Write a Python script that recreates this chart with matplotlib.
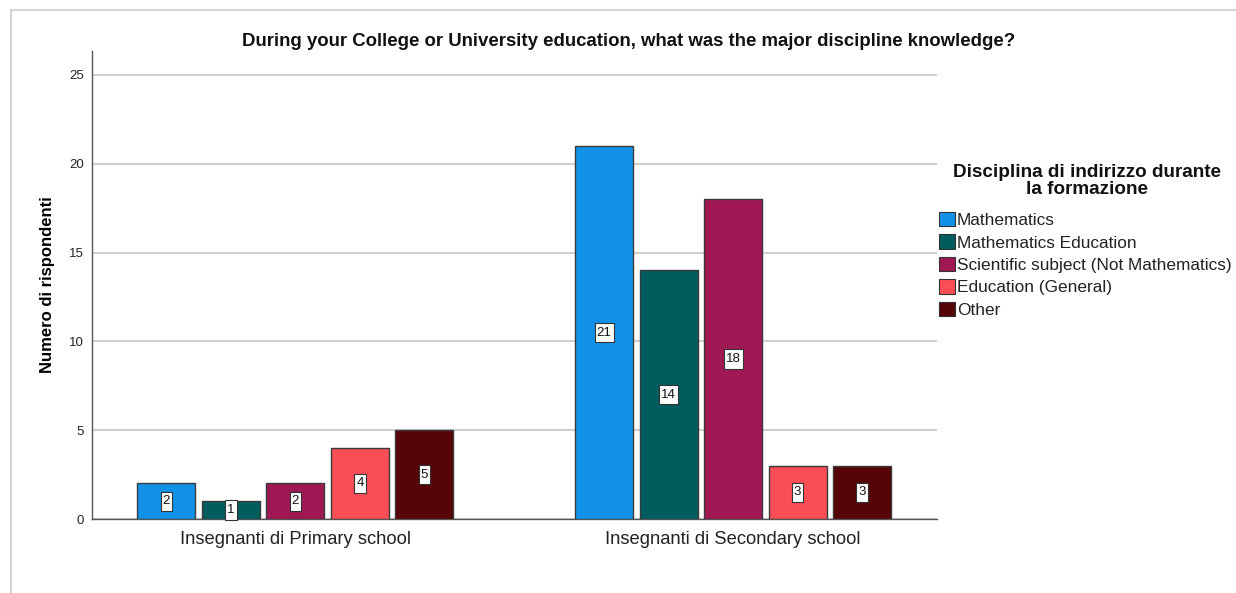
import matplotlib
matplotlib.use("Agg")
import matplotlib.pyplot as plt
import numpy as np
from matplotlib.patches import Patch, Rectangle
from matplotlib.path import Path

plt.rcParams['font.family'] = ['Liberation Sans', 'DejaVu Sans']

groups = ["Insegnanti di Primary school", "Insegnanti di Secondary school"]
disciplines = ["Mathematics", "Mathematics Education",
               "Scientific subject (Not Mathematics)", "Education (General)", "Other"]
counts = {
    "Mathematics": [2, 21],
    "Mathematics Education": [1, 14],
    "Scientific subject (Not Mathematics)": [2, 18],
    "Education (General)": [4, 3],
    "Other": [5, 3],
}
colors = ["#1192E8", "#005D5D", "#9F1853", "#FA4D56", "#570408"]
yticks = [0, 5, 10, 15, 20, 25]

fig = plt.figure(figsize=(12.36, 5.93), dpi=100)
W, H = 1236, 593


def tall_box(x0, y0, width, height, mutation_size):
    # value-label box: slim horizontal padding, taller vertical padding
    px, py = 0.16 * mutation_size, 0.28 * mutation_size
    x0, y0 = x0 - px, y0 - py
    w, h = width + 2 * px, height + 2 * py
    return Path([(x0, y0), (x0 + w, y0), (x0 + w, y0 + h), (x0, y0 + h), (x0, y0)],
                closed=True)


# outer frame
fig.add_artist(Rectangle((11 / W, -0.1), 1.2, (H - 10) / H + 0.1, transform=fig.transFigure,
                         fill=False, edgecolor="#d4d4d4", linewidth=1.5))

ax = fig.add_axes([92 / W, 1 - 519 / H, (937 - 92) / W, (519 - 51) / H])

x = np.arange(len(groups))
width = 0.1326
step = 0.1474
for i, (name, col) in enumerate(zip(disciplines, colors)):
    offs = (i - 2) * step
    vals = counts[name]
    bars = ax.bar(x + offs, vals, width, color=col, edgecolor="#3a3a3a", linewidth=1.0,
                  zorder=3, label=name)
    for b, v in zip(bars, vals):
        ax.text(b.get_x() + b.get_width() / 2, v / 2, str(v), ha="center", va="center",
                fontsize=9.5, color="#111111", zorder=5,
                bbox=dict(boxstyle=tall_box, facecolor="white",
                          edgecolor="#333333", linewidth=0.8))

ax.set_xlim(-0.465, 1.466)
ax.set_ylim(0, 26.35)
ax.set_xticks(x)
ax.set_xticklabels(groups, fontsize=13.2, color="#222222")
ax.set_yticks(yticks)
ax.set_yticklabels([str(t) for t in yticks], fontsize=9.5, color="#222222")
ax.tick_params(axis="x", length=0, pad=9)
ax.tick_params(axis="y", length=0, pad=6)
ax.yaxis.grid(True, color="#cfcfcf", linewidth=1.5, zorder=0)
ax.set_axisbelow(True)
for s in ["top", "right"]:
    ax.spines[s].set_visible(False)
ax.spines["left"].set_color("#555555")
ax.spines["bottom"].set_color("#555555")
ax.spines["left"].set_linewidth(1.0)
ax.spines["bottom"].set_linewidth(1.0)

ax.set_ylabel("Numero di rispondenti", fontsize=12, fontweight="bold", labelpad=10)
fig.text(629 / W, 1 - 41.5 / H, "During your College or University education, what was the major discipline knowledge?",
         ha="center", va="center", fontsize=13.4, fontweight="bold", color="#111111")

# legend title, centred above the entries
fig.text(1087 / W, 1 - 181 / H, "Disciplina di indirizzo durante\nla formazione",
         ha="center", va="center", multialignment="center", fontsize=13.6,
         fontweight="bold", linespacing=1.0, color="#111111")

handles = [Patch(facecolor=c, edgecolor="#333333", linewidth=0.8) for c in colors]
leg = fig.legend(handles, disciplines, loc="upper left", bbox_to_anchor=(939 / W, 1 - 212 / H),
                 frameon=False, fontsize=12.4,
                 handlelength=0.9, handleheight=0.9, handletextpad=0.15, labelspacing=0.37,
                 borderaxespad=0, borderpad=0)
for t in leg.get_texts():
    t.set_color("#222222")

fig.savefig("out.png", dpi=100, facecolor="white")
